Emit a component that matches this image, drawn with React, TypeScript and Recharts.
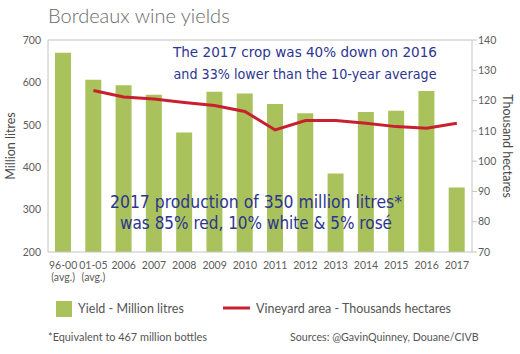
import React from "react";
import { ComposedChart, Bar, Line, XAxis, YAxis, ReferenceLine } from "recharts";

const categories = ["96-00", "01-05", "2006", "2007", "2008", "2009", "2010", "2011", "2012", "2013", "2014", "2015", "2016", "2017"];
const categoryNotes = ["(avg.)", "(avg.)"];
const yieldMillionLitres = [670, 606, 593, 571, 482, 578, 574, 549, 527, 385, 530, 533, 580, 352];
const vineyardThousandHa = [null, 123.3, 121.2, 120.5, 119.4, 118.4, 116.4, 110.3, 113.4, 113.4, 112.5, 111.4, 110.9, 112.5];
const leftTicks = [200, 300, 400, 500, 600, 700];
const rightTicks = [70, 80, 90, 100, 110, 120, 130, 140];

const data = categories.map((label, i) => ({
  label,
  note: categoryNotes[i] || "",
  yield: yieldMillionLitres[i],
  area: vineyardThousandHa[i],
}));

const GREEN = "#a9c25b";
const RED = "#c8202e";
const INK = "#2d3590";
const FONT = "Lato, 'Open Sans', sans-serif";
const HAND = "'DejaVu Sans', sans-serif";

const XTick = (props: any) => {
  const { x, y, payload } = props;
  const idx = categories.indexOf(payload.value);
  const note = idx >= 0 ? categoryNotes[idx] : "";
  return (
    <text x={x} y={y} textAnchor="middle" fontSize={10.5} fill="#5c5c5c" fontFamily={FONT}>
      <tspan x={x} dy={9}>{payload.value}</tspan>
      {note ? <tspan x={x} dy={12}>{note}</tspan> : null}
    </text>
  );
};

export default function App() {
  return (
    <div style={{ position: "relative", width: 520, height: 354, background: "#fff", fontFamily: FONT }}>
      <style>{`body{margin:0}`}</style>
      <ComposedChart
        width={520}
        height={354}
        data={data}
        margin={{ top: 40, right: 8, bottom: 72, left: 8 }}
        barSize={16}
      >
        <XAxis
          dataKey="label"
          interval={0}
          tickLine={false}
          height={30}
          axisLine={{ stroke: "#c4c4c4" }}
          tick={<XTick />}
        />
        <YAxis
          yAxisId="left"
          domain={[200, 700]}
          ticks={leftTicks}
          width={40}
          tickLine={false}
          tickSize={0}
          tickMargin={7}
          axisLine={{ stroke: "#c4c4c4" }}
          tick={{ fontSize: 10.5, fill: "#5c5c5c", fontFamily: FONT }}
          label={{
            value: "Million litres",
            angle: -90,
            position: "insideLeft",
            offset: 3,
            style: { textAnchor: "middle", fontSize: 12.5, fill: "#4a4a4a", fontFamily: FONT },
          }}
        />
        <YAxis
          yAxisId="right"
          orientation="right"
          domain={[70, 140]}
          ticks={rightTicks}
          width={40}
          tickSize={5}
          tickMargin={1}
          tickLine={{ stroke: "#c4c4c4" }}
          axisLine={{ stroke: "#c4c4c4" }}
          tick={{ fontSize: 10.5, fill: "#5c5c5c", fontFamily: FONT, textAnchor: "start" }}
          label={{
            value: "Thousand hectares",
            angle: 90,
            position: "insideRight",
            offset: 5,
            style: { textAnchor: "middle", fontSize: 12.5, fill: "#4a4a4a", fontFamily: FONT },
          }}
        />
        <ReferenceLine yAxisId="left" y={700} stroke="#c4c4c4" />
        <Bar yAxisId="left" dataKey="yield" fill={GREEN} isAnimationActive={false} />
        <Line
          yAxisId="right"
          type="linear"
          dataKey="area"
          stroke={RED}
          strokeWidth={3}
          dot={false}
          activeDot={false}
          isAnimationActive={false}
        />
      </ComposedChart>

      <svg width={520} height={354} style={{ position: "absolute", left: 0, top: 0, pointerEvents: "none" }}>
        <text x={48} y={23} fontSize={20} fill="#6a6a6a" fontFamily={FONT} fontWeight={300}>
          Bordeaux wine yields
        </text>

        <g fill={INK} fontFamily={HAND} fontSize={14.5} textAnchor="middle">
          <text x={305} y={57} textLength={264} lengthAdjust="spacingAndGlyphs">The 2017 crop was 40% down on 2016</text>
          <text x={305} y={79} textLength={263} lengthAdjust="spacingAndGlyphs">and 33% lower than the 10-year average</text>
        </g>
        <g fill={INK} fontFamily={HAND} fontSize={17} textAnchor="middle">
          <text x={256} y={208} textLength={292} lengthAdjust="spacingAndGlyphs">2017 production of 350 million litres*</text>
          <text x={256} y={229} textLength={272} lengthAdjust="spacingAndGlyphs">was 85% red, 10% white &amp; 5% rosé</text>
        </g>

        <rect x={56} y={301} width={16} height={16} fill={GREEN} />
        <text x={78} y={313} fontSize={12.5} fill="#555" fontFamily={FONT}>Yield - Million litres</text>
        <line x1={223} y1={308} x2={250} y2={308} stroke={RED} strokeWidth={3} />
        <text x={256} y={313} fontSize={12.5} fill="#555" fontFamily={FONT}>Vineyard area - Thousands hectares</text>

        <text x={48} y={341} fontSize={10.9} fill="#555" fontFamily={FONT}>*Equivalent to 467 million bottles</text>
        <text x={290} y={341} fontSize={10.7} fill="#555" fontFamily={FONT}>Sources: @GavinQuinney, Douane/CIVB</text>
      </svg>
    </div>
  );
}
